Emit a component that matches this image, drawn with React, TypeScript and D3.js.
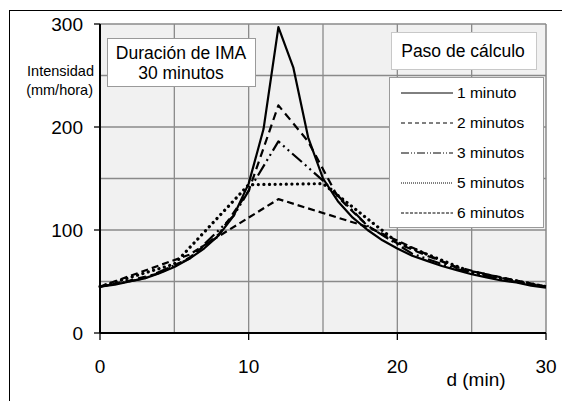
import * as d3 from "d3";

// tiempo (min) y intensidad (mm/hora) para cada paso de cálculo
const t1 = [0, 1, 2, 3, 4, 5, 6, 7, 8, 9, 10, 11, 12, 13, 14, 15, 16, 17, 18, 19, 20, 21, 22, 23, 24, 25, 26, 27, 28, 29, 30];
const i1 = [45, 47, 50, 53, 58, 64, 72, 82, 95, 114, 145, 198, 297, 258, 190, 150, 128, 112, 100, 90, 82, 75, 70, 65, 61, 57, 54, 51, 49, 46, 44];
const t2 = [0, 2, 4, 6, 8, 10, 12, 14, 16, 18, 20, 22, 24, 26, 28, 30];
const i2 = [45, 51, 58, 73, 96, 138, 221, 186, 132, 104, 87, 75, 64, 57, 50, 45];
const t3 = [0, 3, 6, 9, 12, 15, 18, 21, 24, 27, 30];
const i3 = [45, 53, 72, 114, 186, 148, 104, 77, 62, 52, 45];
const t5 = [0, 5, 10, 15, 20, 25, 30];
const i5 = [45, 67, 144, 145, 88, 59, 45];
const t6 = [0, 6, 12, 18, 24, 30];
const i6 = [45, 76, 130, 103, 63, 45];

const seriesNames = ["1 minuto", "2 minutos", "3 minutos", "5 minutos", "6 minutos"];
const xTicks = [0, 10, 20, 30];
const yTicks = [0, 100, 200, 300];
const xGrid = [5, 10, 15, 20, 25];
const yGrid = [50, 100, 150, 200, 250];

const width = 562;
const height = 401;
const marginLeft = 100;
const marginRight = 16;
const marginTop = 24;
const marginBottom = 68;

const font = "Arial, 'Liberation Sans', sans-serif";

export default function App() {
  const x = d3.scaleLinear([0, 30], [marginLeft, width - marginRight]);
  const y = d3.scaleLinear([0, 300], [height - marginBottom, marginTop]);

  const line = d3
    .line<[number, number]>()
    .x((d) => x(d[0]))
    .y((d) => y(d[1]));

  const zip = (t: number[], v: number[]) => t.map((d, k) => [d, v[k]] as [number, number]);

  const series = [
    { pts: zip(t1, i1), dash: "none", w: 2.2, cap: "butt" },
    { pts: zip(t2, i2), dash: "8 5", w: 2.2, cap: "butt" },
    { pts: zip(t3, i3), dash: "13 4 2 4 2 4", w: 2.2, cap: "butt" },
    { pts: zip(t5, i5), dash: "0.1 5.5", w: 3.2, cap: "round" },
    { pts: zip(t6, i6), dash: "7 4", w: 2.2, cap: "butt" },
  ];
  const legendDash = ["none", "4 3", "8 2 1 2 1 2", "1 1", "3 1.5"];

  const [x0, x1] = x.range();
  const [y0, y1] = y.range();

  return (
    <svg
      width={width}
      height={height}
      style={{ position: "absolute", left: 0, top: 0, background: "#fff" }}
      fontFamily={font}
    >
      {/* marco exterior */}
      <rect x={9.5} y={10.5} width={600} height={420} fill="none" stroke="#000" strokeWidth={1} />

      {/* área del gráfico */}
      <rect x={x0} y={y1} width={x1 - x0} height={y0 - y1} fill="#f1f1f1" />
      {xGrid.map((d) => (
        <line key={"gx" + d} x1={x(d)} x2={x(d)} y1={y0} y2={y1} stroke="#8a8a8a" strokeWidth={1.3} />
      ))}
      {yGrid.map((d) => (
        <line key={"gy" + d} x1={x0} x2={x1} y1={y(d)} y2={y(d)} stroke="#8a8a8a" strokeWidth={1.3} />
      ))}
      <line x1={x0} x2={x1} y1={y1} y2={y1} stroke="#8a8a8a" strokeWidth={1.5} />
      <line x1={x1} x2={x1} y1={y1} y2={y0} stroke="#8a8a8a" strokeWidth={1.5} />

      {/* ejes */}
      <line x1={x0} x2={x1} y1={y0} y2={y0} stroke="#000" strokeWidth={2} />
      <line x1={x0} x2={x0} y1={y0} y2={y1} stroke="#000" strokeWidth={2} />
      {yTicks.map((d) => (
        <g key={"yt" + d}>
          <line x1={x0 - 6} x2={x0} y1={y(d)} y2={y(d)} stroke="#000" strokeWidth={1.3} />
          <text x={83} y={y(d)} dy="0.35em" textAnchor="end" fontSize={19}>
            {d}
          </text>
        </g>
      ))}
      {xTicks.map((d) => (
        <g key={"xt" + d}>
          <line x1={x(d)} x2={x(d)} y1={y0} y2={y0 + 7} stroke="#000" strokeWidth={1.3} />
          <text x={x(d)} y={366} dy="0.35em" textAnchor="middle" fontSize={19}>
            {d}
          </text>
        </g>
      ))}
      <text x={476} y={379} dy="0.35em" textAnchor="middle" fontSize={19}>
        d (min)
      </text>
      <text x={94} y={71} dy="0.35em" textAnchor="end" fontSize={14.5}>
        Intensidad
      </text>
      <text x={93} y={90} dy="0.35em" textAnchor="end" fontSize={14.5}>
        (mm/hora)
      </text>

      {/* series */}
      {series.map((s, k) => (
        <path
          key={"s" + k}
          d={line(s.pts)!}
          fill="none"
          stroke="#000"
          strokeWidth={s.w}
          strokeDasharray={s.dash}
          strokeLinecap={s.cap as any}
          strokeLinejoin="round"
        />
      ))}

      {/* cuadro duración */}
      <rect x={107.5} y={38.5} width={148} height={48} fill="#fff" stroke="#9a9a9a" />
      <text x={181} y={53} dy="0.35em" textAnchor="middle" fontSize={17.5}>
        Duración de IMA
      </text>
      <text x={181} y={73} dy="0.35em" textAnchor="middle" fontSize={17.5}>
        30 minutos
      </text>

      {/* cuadro paso de cálculo */}
      <rect x={391.5} y={32.5} width={145} height={37} fill="#fff" stroke="#c8c8c8" />
      <text x={463} y={51} dy="0.35em" textAnchor="middle" fontSize={17.5}>
        Paso de cálculo
      </text>

      {/* leyenda */}
      <rect x={389.5} y={77.5} width={154} height={150} fill="#fff" stroke="#9a9a9a" />
      {seriesNames.map((name, k) => (
        <g key={"lg" + k} transform={`translate(0,${93 + k * 30})`}>
          <line x1={401} x2={453} y1={0} y2={0} stroke="#000" strokeWidth={1} strokeDasharray={legendDash[k]} />
          <text x={457} y={0} dy="0.35em" fontSize={15.5}>
            {name}
          </text>
        </g>
      ))}
    </svg>
  );
}
